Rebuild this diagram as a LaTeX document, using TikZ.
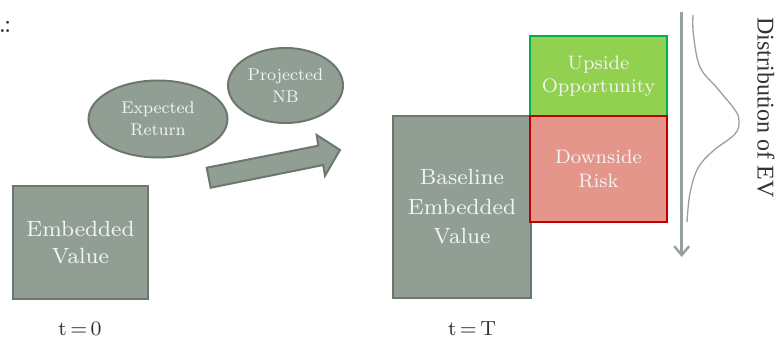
\documentclass[tikz,border=0pt]{standalone}
\usepackage{fontspec}
\setmainfont{lmroman8-regular}[Extension=.otf]
\newfontfamily\distfont{Liberation Serif}
\usetikzlibrary{shapes.geometric,arrows.meta}

\definecolor{sage}{HTML}{919E93}
\definecolor{sageline}{HTML}{6C786E}
\definecolor{upfill}{HTML}{92D050}
\definecolor{upline}{HTML}{00B050}
\definecolor{downfill}{HTML}{E4968A}
\definecolor{downline}{HTML}{C00000}
\definecolor{axisgray}{HTML}{95A39A}
\definecolor{labelgray}{HTML}{333333}
\definecolor{boxtext}{HTML}{F4F4F4}

\tikzset{
  sagebox/.style={draw=sageline, fill=sage, line width=2pt, inner sep=0pt,
    text=boxtext, align=center, font=\fontsize{22}{27}\selectfont},
  sageoval/.style={ellipse, draw=sageline, fill=sage, line width=2pt, inner sep=0pt,
    text=boxtext, align=center, font=\fontsize{17}{22}\selectfont},
  upbox/.style={draw=upline, fill=upfill, line width=2.5pt, inner sep=0pt,
    text=boxtext, align=center, font=\fontsize{19.5}{23.5}\selectfont},
  downbox/.style={draw=downline, fill=downfill, line width=2.5pt, inner sep=0pt,
    text=boxtext, align=center, font=\fontsize{19.5}{23.5}\selectfont},
  timelabel/.style={text=labelgray, font=\fontsize{20.5}{20.5}\selectfont},
  blockarrow/.style={draw=sageline, fill=sage, line width=2pt, line join=miter},
  evaxis/.style={draw=axisgray, line width=2.6pt,
    -{Straight Barb[length=9pt,width=15pt,line width=2.4pt]}},
  density/.style={draw=axisgray, line width=1.3pt}
}

\begin{document}
\begin{tikzpicture}[x=1pt,y=-1pt]
  \useasboundingbox (0,0) rectangle (780,339);

  % trailing punctuation at the top left
  \node[text=labelgray, anchor=base west, inner sep=0pt, font=\fontsize{26}{26}\selectfont]
    (punct) at (-1.5,33) {.\kern-2.5pt:};

  % starting value
  \node[sagebox, minimum width=135pt, minimum height=113pt] (ev) at (80.5,242.5)
    {Embedded\\Value};
  \node[timelabel] (t0) at (80,329) {t\,=\,0};

  % drivers
  \node[sageoval, minimum width=139pt, minimum height=77pt] (er) at (158,119)
    {Expected\\Return};
  \node[sageoval, minimum width=115pt, minimum height=75pt] (nb) at (285.5,85.5)
    {Projected\\NB};

  % block arrow towards the projection
  \draw[blockarrow] (206.7,167.7) -- (318.3,145.7) -- (316.7,135) -- (340,150)
    -- (325,175.7) -- (323.3,165) -- (210.7,187.7) -- cycle;

  % projected value and its spread
  \node[sagebox, minimum width=138pt, minimum height=182pt,
        font=\fontsize{22}{29.5}\selectfont] (bev) at (462,207)
    {Baseline\\Embedded\\Value};
  \node[upbox, minimum width=137pt, minimum height=80pt] (up) at (598.5,76)
    {Upside\\Opportunity};
  \node[downbox, minimum width=137pt, minimum height=106pt] (down) at (598.5,169)
    {Downside\\Risk};
  \node[timelabel] (tT) at (472,329) {t\,=\,T};

  % distribution axis and density
  \coordinate (axtop) at (681.7,12);
  \coordinate (axbot) at (681.7,257);
  \draw[evaxis] (axtop) -- (axbot);
  \draw[density] plot[smooth, tension=0.6] coordinates {
    (693,15) (693.5,35) (700,67) (717,88) (735,110) (739,121) (735,134)
    (713,151) (698,168) (690,193) (687,222)};

  \node[rotate=-90, font=\distfont\fontsize{24}{24}\selectfont, text=labelgray]
    (dist) at (766,107.5) {Distribution of EV};
\end{tikzpicture}
\end{document}
